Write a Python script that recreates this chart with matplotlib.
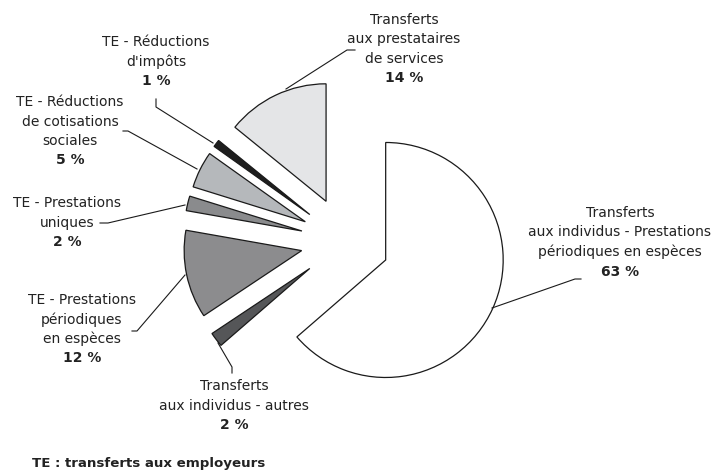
import matplotlib.pyplot as plt

# Répartition des transferts (en % du total)
labels = [
    "Transferts\naux individus - Prestations\npériodiques en espèces",
    "Transferts\naux individus - autres",
    "TE - Prestations\npériodiques\nen espèces",
    "TE - Prestations\nuniques",
    "TE - Réductions\nde cotisations\nsociales",
    "TE - Réductions\nd'impôts",
    "Transferts\naux prestataires\nde services",
]
shares = [63, 2, 12, 2, 5, 1, 14]
colors = ['#ffffff', '#555658', '#8c8c8e', '#8a8b8d', '#b5b8bb', '#1e1e1e', '#e4e5e7']

# label block: centre x, y of first line (pixel units, origin top-left)
label_pos = [(620, 213), (234, 386), (82, 300), (67, 203), (70, 102), (156, 42), (404, 20)]
line_step = 19.5

# leader lines, from the label towards its slice
leaders = [
    [(581, 279), (575, 279), (492, 308)],
    [(232, 373), (232, 367), (218, 343)],
    [(132, 331), (137, 331), (185, 275)],
    [(100, 223), (108, 223), (185, 205)],
    [(123, 131), (128, 131), (197, 169)],
    [(156, 99), (156, 107), (213, 143)],
    [(355, 50), (347, 50), (286, 89)],
]

W, H = 713, 472
fig = plt.figure(figsize=(W / 100, H / 100), dpi=100)
ax = fig.add_axes([0, 0, 1, 1])

# y axis runs downwards, so counterclock=True turns clockwise on screen
ax.pie(shares, colors=colors, center=(345.2, 241.5), radius=117.5,
       explode=[44.5] * len(shares), startangle=-90, counterclock=True,
       wedgeprops=dict(edgecolor='#1a1a1a', linewidth=0.9))

ax.set_xlim(0, W)
ax.set_ylim(H, 0)
ax.set_aspect('equal')
ax.axis('off')

txt = '#222222'
for lab, val, (cx, y0), path in zip(labels, shares, label_pos, leaders):
    lines = lab.split('\n')
    for i, line in enumerate(lines):
        ax.text(cx, y0 + i * line_step, line, ha='center', va='center',
                fontsize=10, color=txt)
    ax.text(cx, y0 + len(lines) * line_step, f"{val} %", ha='center',
            va='center', fontsize=10, fontweight='bold', color=txt)
    xs, ys = zip(*path)
    ax.plot(xs, ys, color='#1a1a1a', linewidth=0.8)

ax.text(32, 464, "TE : transferts aux employeurs", ha='left', va='center',
        fontsize=9.6, fontweight='bold', color=txt)

fig.savefig('out.png', dpi=100)
